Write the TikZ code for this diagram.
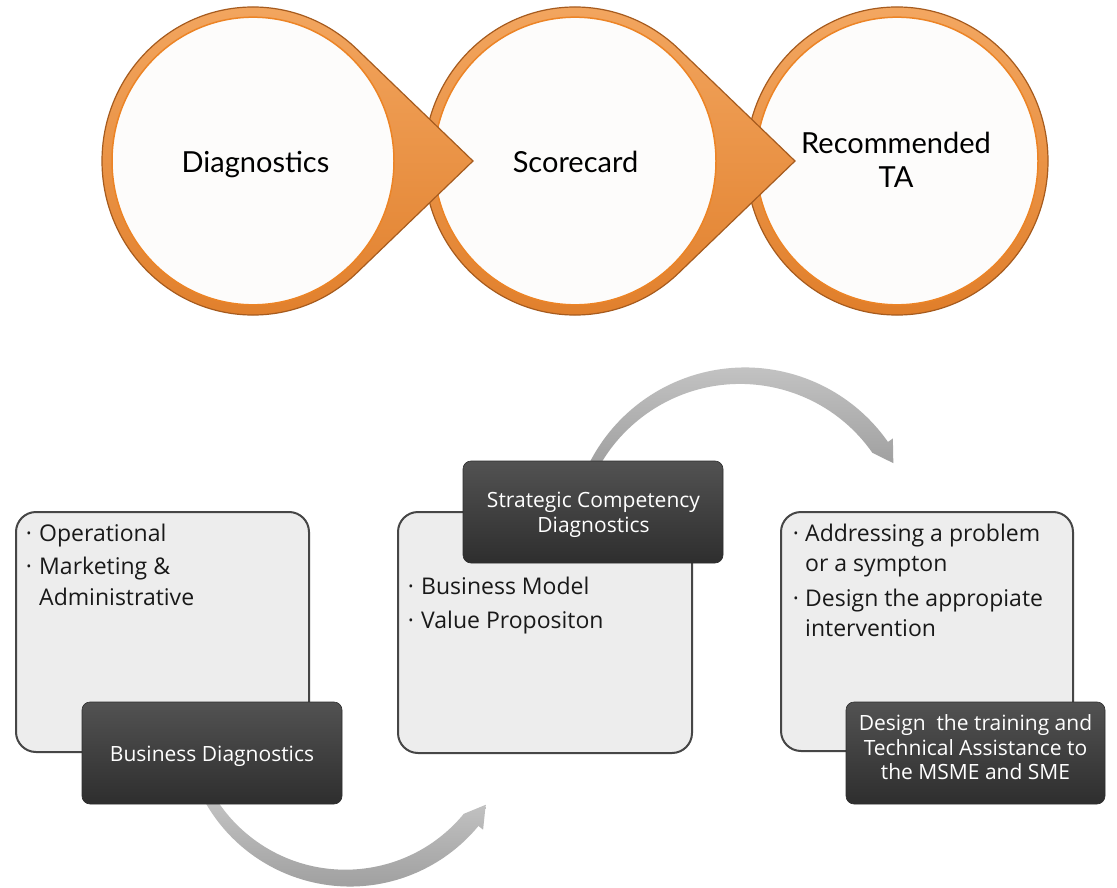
\documentclass[tikz,border=0pt]{standalone}
\usepackage{fontspec}
\setmainfont{Open Sans}
\newfontfamily\ringfont{Lato}
\usetikzlibrary{calc}

\definecolor{ringlight}{HTML}{F3A761}
\definecolor{ringdark}{HTML}{E07E2A}
\definecolor{ringedge}{HTML}{A65B1E}
\definecolor{ringinner}{HTML}{EC8426}
\definecolor{paper}{HTML}{FDFCFB}
\definecolor{panel}{HTML}{EDEDED}
\definecolor{panelline}{HTML}{464646}
\definecolor{tabtop}{HTML}{525252}
\definecolor{tabbottom}{HTML}{2E2E2E}
\definecolor{arclight}{HTML}{CACACA}
\definecolor{arcdark}{HTML}{979797}

\tikzset{
  % orange ring with a pointer towards the next stage
  pics/pointedring/.style={code={
    \path[top color=ringlight, bottom color=ringdark, draw=ringedge, line width=1.2pt]
      (46.65:151) arc[start angle=46.65, end angle=313.35, radius=151] -- (220,0) -- cycle;
    \path[fill=paper, draw=ringinner, line width=1.5pt] (0,0) circle[radius=141];
  }},
  % last ring, no pointer
  pics/plainring/.style={code={
    \path[top color=ringlight, bottom color=ringdark, draw=ringedge, line width=1.2pt]
      (0,0) circle[radius=151];
    \path[fill=paper, draw=ringinner, line width=1.5pt] (0,0) circle[radius=141];
  }},
  ringtext/.style={anchor=base, inner sep=0pt, font=\ringfont\fontsize{29}{34}\selectfont, text=black},
  panelbox/.style={draw=panelline, line width=2pt, fill=panel, rounded corners=20pt, inner sep=0pt},
  tabbox/.style={top color=tabtop, bottom color=tabbottom, draw=tabbottom, line width=0.6pt,
                 rounded corners=8pt, inner sep=0pt, minimum width=260pt, minimum height=102pt},
  tabtext/.style={anchor=base, inner sep=0pt, text=white, font=\fontsize{21}{25}\selectfont},
  itemtext/.style={anchor=base west, inner sep=0pt, text=black!90, font=\fontsize{23}{28}\selectfont},
  bulletmark/.style={anchor=base, inner sep=0pt, text=black!90, font=\fontsize{23}{28}\selectfont},
  arcarrow/.style={top color=arclight, bottom color=arcdark, draw=none},
}

\begin{document}
\begin{tikzpicture}[x=1pt, y=-1pt]
  \useasboundingbox (0,0) rectangle (1117,888);
  \fill[white] (0,0) rectangle (1117,888);

  % ---- stage rings (drawn right to left so each pointer lies on the next ring)
  \pic[yscale=1.02] at (897,161) {plainring};
  \pic[yscale=1.02] at (575,161) {pointedring};
  \pic[yscale=1.02] at (253,161) {pointedring};

  \node[ringtext] (diag) at (255.5,172.5) {Diagnostics};
  \node[ringtext] (score) at (575.5,172) {Scorecard};
  \node[ringtext] (recA) at (896,154) {Recommended};
  \node[ringtext] (recB) at (896,188) {TA};

  % ---- curved grey arrows between the panels
  \coordinate (lowc) at (350,720);
  \coordinate (highc) at (745,542);
  \path[arcarrow]
    ($(lowc)+(155:166.5)$) arc[start angle=155, end angle=39.5, radius=166.5]
    -- ($(lowc)+(39.5:172.5)$) -- ($(lowc)+(32:160)$) -- ($(lowc)+(39.5:147.5)$)
    arc[start angle=39.5, end angle=155, radius=153.5] -- cycle;
  \path[arcarrow]
    ($(highc)+(200:174.5)$) arc[start angle=200, end angle=325, radius=174.5]
    -- ($(highc)+(325:180.5)$) -- ($(highc)+(332:168)$) -- ($(highc)+(325:155.5)$)
    arc[start angle=325, end angle=200, radius=161.5] -- cycle;

  % ---- light panels
  \node[panelbox, minimum width=293pt, minimum height=240pt] (p1) at (162.5,632) {};
  \node[panelbox, minimum width=294pt, minimum height=241pt] (p2) at (545,632.5) {};
  \node[panelbox, minimum width=292pt, minimum height=239pt] (p3) at (927,631.5) {};

  % ---- dark title tabs
  \node[tabbox] (t1) at (212,753) {};
  \node[tabbox] (t2) at (593,512) {};
  \node[tabbox, minimum width=259pt] (t3) at (975.5,753) {};

  \node[tabtext] (t1a) at (212,761) {Business Diagnostics};
  \node[tabtext] (t2a) at (593.5,507) {Strategic Competency};
  \node[tabtext] (t2b) at (593.5,532) {Diagnostics};
  \node[tabtext] (t3a) at (975.5,730) {Design\ \ the training and};
  \node[tabtext] (t3b) at (975.5,755) {Technical Assistance to};
  \node[tabtext] (t3c) at (975.5,779) {the MSME and SME};

  % ---- bullet lists
  \node[bulletmark] (b1a) at (29,541) {·};
  \node[itemtext] (i1a) at (39,541) {Operational};
  \node[bulletmark] (b1b) at (29,574) {·};
  \node[itemtext] (i1b) at (39,574) {Marketing \&};
  \node[itemtext] (i1c) at (39,605) {Administrative};

  \node[bulletmark] (b2a) at (411,594) {·};
  \node[itemtext] (i2a) at (421,594) {Business Model};
  \node[bulletmark] (b2b) at (411,628) {·};
  \node[itemtext] (i2b) at (421,628) {Value Propositon};

  \node[bulletmark] (b3a) at (796,541) {·};
  \node[itemtext] (i3a) at (805,541) {Addressing a problem};
  \node[itemtext] (i3b) at (805,571) {or a sympton};
  \node[bulletmark] (b3b) at (796,606) {·};
  \node[itemtext] (i3c) at (805,606) {Design the appropiate};
  \node[itemtext] (i3d) at (805,636) {intervention};
\end{tikzpicture}
\end{document}
